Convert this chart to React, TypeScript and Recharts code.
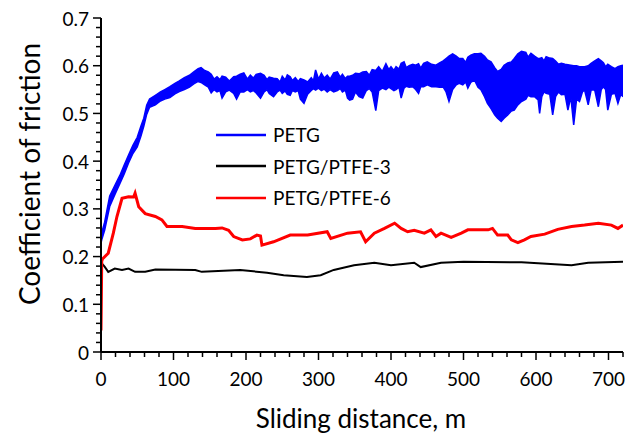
import React from "react";
import { ComposedChart, Line, Area, XAxis, YAxis, Legend } from "recharts";

// ---------- data ----------
// PETG: noisy band, lower / upper envelope of coefficient of friction
const petgX = [0, 1, 5, 12, 20, 26, 32, 38, 44, 50, 55, 59, 63, 67, 75, 82, 88, 95, 102, 108, 115, 122, 128, 134, 138, 143, 148, 152, 156, 160, 164, 167, 172, 177, 183, 187, 192, 197, 202, 206, 210, 214, 220, 225, 229, 232, 238, 243, 247, 250, 254, 257, 261, 264, 268, 272, 275, 280, 285, 290, 293, 296, 300, 304, 308, 312, 316, 321, 326, 330, 333, 337, 340, 343, 347, 351, 356, 361, 366, 370, 374, 379, 383, 388, 393, 397, 400, 404, 407, 411, 414, 418, 421, 425, 430, 434, 438, 441, 445, 450, 456, 462, 467, 472, 476, 480, 485, 490, 494, 499, 503, 506, 510, 515, 520, 524, 529, 533, 538, 543, 547, 552, 556, 561, 566, 570, 575, 580, 586, 589, 593, 598, 603, 605, 608, 611, 614, 619, 623, 627, 631, 635, 640, 644, 648, 652, 656, 660, 664, 667, 672, 676, 681, 686, 690, 693, 696, 699, 704, 709, 713, 717, 720];
const petgLo = [0.228, 0.235, 0.255, 0.305, 0.333, 0.353, 0.373, 0.396, 0.416, 0.43, 0.452, 0.473, 0.498, 0.513, 0.518, 0.526, 0.53, 0.533, 0.541, 0.546, 0.55, 0.555, 0.562, 0.567, 0.565, 0.56, 0.555, 0.543, 0.55, 0.545, 0.548, 0.532, 0.545, 0.549, 0.542, 0.53, 0.545, 0.545, 0.55, 0.545, 0.548, 0.543, 0.532, 0.545, 0.55, 0.542, 0.535, 0.545, 0.549, 0.542, 0.547, 0.54, 0.538, 0.548, 0.545, 0.548, 0.53, 0.521, 0.54, 0.548, 0.552, 0.549, 0.553, 0.548, 0.551, 0.545, 0.55, 0.545, 0.548, 0.552, 0.545, 0.549, 0.532, 0.528, 0.53, 0.545, 0.535, 0.532, 0.548, 0.552, 0.545, 0.506, 0.548, 0.553, 0.55, 0.555, 0.552, 0.548, 0.55, 0.555, 0.532, 0.553, 0.557, 0.555, 0.556, 0.55, 0.542, 0.556, 0.556, 0.56, 0.556, 0.556, 0.555, 0.555, 0.545, 0.525, 0.55, 0.56, 0.563, 0.56, 0.566, 0.553, 0.565, 0.57, 0.555, 0.55, 0.535, 0.521, 0.51, 0.497, 0.49, 0.483, 0.49, 0.497, 0.505, 0.507, 0.518, 0.525, 0.53, 0.538, 0.535, 0.535, 0.528, 0.5, 0.535, 0.545, 0.542, 0.54, 0.497, 0.535, 0.545, 0.539, 0.54, 0.507, 0.535, 0.476, 0.53, 0.525, 0.545, 0.549, 0.518, 0.549, 0.549, 0.514, 0.55, 0.556, 0.55, 0.507, 0.54, 0.542, 0.521, 0.54, 0.535];
const petgHi = [0.245, 0.25, 0.272, 0.327, 0.352, 0.37, 0.392, 0.413, 0.433, 0.45, 0.473, 0.49, 0.517, 0.53, 0.538, 0.545, 0.55, 0.556, 0.563, 0.568, 0.575, 0.58, 0.587, 0.594, 0.596, 0.59, 0.587, 0.582, 0.572, 0.577, 0.571, 0.578, 0.576, 0.568, 0.577, 0.578, 0.582, 0.585, 0.572, 0.58, 0.574, 0.582, 0.584, 0.58, 0.571, 0.576, 0.574, 0.573, 0.566, 0.578, 0.57, 0.581, 0.577, 0.569, 0.575, 0.567, 0.573, 0.57, 0.566, 0.575, 0.568, 0.591, 0.572, 0.584, 0.574, 0.58, 0.572, 0.585, 0.587, 0.576, 0.582, 0.573, 0.578, 0.578, 0.58, 0.584, 0.583, 0.587, 0.588, 0.58, 0.592, 0.59, 0.598, 0.588, 0.604, 0.592, 0.598, 0.59, 0.598, 0.593, 0.605, 0.608, 0.596, 0.6, 0.603, 0.601, 0.604, 0.595, 0.605, 0.608, 0.603, 0.601, 0.606, 0.61, 0.615, 0.62, 0.625, 0.62, 0.615, 0.615, 0.607, 0.618, 0.622, 0.625, 0.625, 0.626, 0.62, 0.612, 0.608, 0.596, 0.588, 0.592, 0.601, 0.606, 0.608, 0.615, 0.625, 0.63, 0.628, 0.618, 0.626, 0.62, 0.615, 0.615, 0.617, 0.61, 0.619, 0.616, 0.615, 0.61, 0.603, 0.605, 0.603, 0.602, 0.601, 0.6, 0.6, 0.598, 0.598, 0.598, 0.6, 0.605, 0.61, 0.615, 0.61, 0.606, 0.598, 0.603, 0.598, 0.594, 0.598, 0.6, 0.601];

// PETG/PTFE-3
const ptfe3X = [0, 1, 5, 10, 19, 29, 38, 47, 61, 75, 130, 139, 192, 229, 252, 284, 303, 321, 349, 377, 400, 432, 441, 469, 500, 580, 649, 672, 720];
const ptfe3Y = [0.185, 0.186, 0.179, 0.168, 0.175, 0.172, 0.175, 0.168, 0.168, 0.173, 0.172, 0.168, 0.172, 0.166, 0.161, 0.157, 0.161, 0.172, 0.182, 0.187, 0.182, 0.187, 0.178, 0.187, 0.189, 0.188, 0.182, 0.187, 0.189];

// PETG/PTFE-6
const ptfe6X = [0, 1, 2, 10, 17, 22, 29, 38, 45, 47, 52, 61, 75, 84, 91, 112, 130, 158, 167, 176, 183, 195, 206, 215, 220, 222, 238, 261, 285, 312, 317, 340, 358, 365, 377, 391, 405, 414, 423, 432, 446, 455, 462, 469, 483, 497, 506, 534, 540, 547, 561, 566, 575, 584, 593, 612, 630, 649, 667, 686, 704, 713, 720];
const ptfe6Y = [0.045, 0.19, 0.195, 0.207, 0.249, 0.284, 0.322, 0.3255, 0.325, 0.333, 0.3045, 0.29, 0.284, 0.277, 0.263, 0.263, 0.259, 0.259, 0.26, 0.255, 0.242, 0.235, 0.237, 0.245, 0.243, 0.224, 0.231, 0.245, 0.245, 0.252, 0.238, 0.249, 0.252, 0.231, 0.249, 0.259, 0.27, 0.259, 0.252, 0.255, 0.249, 0.256, 0.242, 0.249, 0.24, 0.249, 0.256, 0.256, 0.259, 0.245, 0.245, 0.235, 0.229, 0.235, 0.242, 0.247, 0.257, 0.263, 0.266, 0.27, 0.266, 0.259, 0.266];

const xMajorTicks = [0, 100, 200, 300, 400, 500, 600, 700];
const xMinorStep = 20;
const xMax = 720;
const yMajorTicks = [0, 0.1, 0.2, 0.3, 0.4, 0.5, 0.6, 0.7];
const yMinorStep = 0.02;
const yMax = 0.7;

const seriesNames = ["PETG", "PETG/PTFE-3", "PETG/PTFE-6"];
const seriesColors = ["#0000ff", "#000000", "#ff0000"];

// ---------- derived tables ----------
const petgData = petgX.map((x, i) => ({ x, band: [petgLo[i], petgHi[i]] }));
const ptfe3Data = ptfe3X.map((x, i) => ({ x, y: ptfe3Y[i] }));
const ptfe6Data = ptfe6X.map((x, i) => ({ x, y: ptfe6Y[i] }));

const xTicks: number[] = [];
for (let i = 0; i * xMinorStep <= xMax; i++) xTicks.push(i * xMinorStep);
const yTicks: number[] = [];
for (let i = 0; i <= Math.round(yMax / yMinorStep); i++) yTicks.push(Math.round(i * yMinorStep * 100) / 100);

const FONT = "Lato, 'Liberation Sans', sans-serif";
const TICK = 5; // minor tick length
const MAJOR = 8; // major tick length

const isMajorX = (v: number) => xMajorTicks.includes(v);
const isMajorY = (v: number) => yMajorTicks.some((t) => Math.abs(t - v) < 1e-9);

// labels only; x/y are the outer end of the axis' own tick line
const XTick = (props: any) => {
  const { x, y, payload } = props;
  const v = payload.value;
  if (!isMajorX(v)) return <g />;
  return (
    <text x={x} y={y + 21} textAnchor="middle" dominantBaseline="central" fontFamily={FONT} fontSize={19} fill="#000">
      {String(v)}
    </text>
  );
};

const YTick = (props: any) => {
  const { x, y, payload } = props;
  const v = payload.value;
  if (!isMajorY(v)) return <g />;
  return (
    <text x={x - 7} y={y} textAnchor="end" dominantBaseline="central" fontFamily={FONT} fontSize={19} fill="#000">
      {String(v)}
    </text>
  );
};

// axis title + tick marks, placed from the axis' view box
const XAxisDecor = (props: any) => {
  const vb = props.viewBox || {};
  const left = vb.x ?? 93;
  const w = vb.width ?? 522;
  const top = vb.y ?? 344;
  return (
    <g>
      {xTicks.map((v) => {
        const px = left + (w * v) / xMax;
        return <line key={v} x1={px} x2={px} y1={top} y2={top + (isMajorX(v) ? MAJOR : TICK)} stroke="#000" strokeWidth={1.5} />;
      })}
      <text x={353} y={410} textAnchor="middle" dominantBaseline="central" fontFamily={FONT} fontSize={26} fill="#000">
        Sliding distance, m
      </text>
    </g>
  );
};

const YAxisDecor = (props: any) => {
  const vb = props.viewBox || {};
  const axisX = (vb.x ?? 33) + (vb.width ?? 60);
  const top = vb.y ?? 10;
  const h = vb.height ?? 334;
  return (
    <g>
      {yTicks.map((v) => {
        const py = top + h * (1 - v / yMax);
        return <line key={v} x1={axisX - (isMajorY(v) ? MAJOR : TICK)} x2={axisX} y1={py} y2={py} stroke="#000" strokeWidth={1.5} />;
      })}
      <text
        x={21}
        y={166}
        textAnchor="middle"
        dominantBaseline="central"
        fontFamily={FONT}
        fontSize={28}
        fill="#000"
        transform="rotate(-90 21 166)"
      >
        Coefficient of friction
      </text>
    </g>
  );
};

const LegendBox = () => (
  <div style={{ fontFamily: FONT, fontSize: 19, color: "#000" }}>
    {seriesNames.map((n, i) => (
      <div key={n} style={{ display: "flex", alignItems: "center", height: 31.5 }}>
        <svg width={50} height={6} style={{ marginRight: 7 }}>
          <line x1={0} x2={50} y1={3} y2={3} stroke={seriesColors[i]} strokeWidth={2.5} />
        </svg>
        <span>{n}</span>
      </div>
    ))}
  </div>
);

export default function App() {
  return (
    <div style={{ width: 630, height: 435 }}>
      <ComposedChart width={630} height={435} margin={{ top: 10, right: 15, bottom: 31, left: 33 }}>
        <XAxis
          type="number"
          dataKey="x"
          domain={[0, xMax]}
          ticks={xTicks}
          interval={0}
          tick={<XTick />}
          tickLine={false}
          tickSize={TICK}
          tickMargin={0}
          height={60}
          axisLine={{ stroke: "#000", strokeWidth: 2 }}
          allowDataOverflow
          label={{ content: (p: any) => <XAxisDecor {...p} /> }}
        />
        <YAxis
          type="number"
          domain={[0, yMax]}
          ticks={yTicks}
          interval={0}
          tick={<YTick />}
          tickLine={false}
          tickSize={TICK}
          tickMargin={0}
          width={60}
          axisLine={{ stroke: "#000", strokeWidth: 2 }}
          allowDataOverflow
          label={{ content: (p: any) => <YAxisDecor {...p} /> }}
        />
        <Legend
          layout="vertical"
          align="center"
          verticalAlign="middle"
          content={() => <LegendBox />}
          wrapperStyle={{ left: 208, top: 111, width: 220 }}
        />
        <Area
          data={petgData}
          dataKey="band"
          type="linear"
          stroke="#0000ff"
          strokeWidth={1.5}
          fill="#0000ff"
          fillOpacity={1}
          isAnimationActive={false}
          dot={false}
          activeDot={false}
        />
        <Line data={ptfe3Data} dataKey="y" type="linear" stroke="#000000" strokeWidth={2} dot={false} isAnimationActive={false} />
        <Line data={ptfe6Data} dataKey="y" type="linear" stroke="#ff0000" strokeWidth={3} dot={false} isAnimationActive={false} />
      </ComposedChart>
    </div>
  );
}
